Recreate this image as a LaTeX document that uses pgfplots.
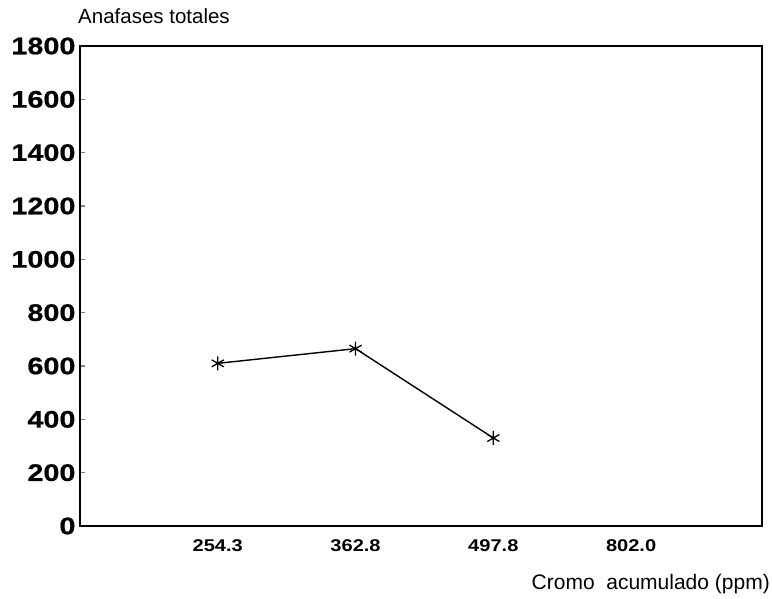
\documentclass[border=0pt]{standalone}
\usepackage{fontspec}
\setmainfont{Liberation Sans}
\newfontfamily\tickfont[FakeStretch=1.2, FakeBold=0.6]{Liberation Sans}
\newfontfamily\xtickfont[FakeStretch=1.18]{Liberation Sans}
\usepackage{pgfplots}
\pgfplotsset{compat=1.18}
\begin{document}
\begin{tikzpicture}[x=1pt,y=1pt]
\useasboundingbox (0,0) rectangle (772,598);
\begin{axis}[
  at={(80pt,72pt)}, anchor=south west,
  scale only axis, width=682pt, height=480pt,
  xmin=0, xmax=4.95, ymin=0, ymax=1800,
  ytick={0,200,...,1800},
  xtick={1,2,3,4},
  xticklabels={254.3,362.8,497.8,802.0},
  ytick pos=left, xtick pos=bottom,
  tick align=inside,
  major tick length=5pt,
  x tick style={draw=none},
  y tick style={line width=1.2pt},
  axis line style={line width=1.5pt},
  /pgf/number format/assume math mode=true,
  /pgf/number format/set thousands separator={},
  yticklabel style={font=\fontsize{24}{26}\tickfont\bfseries, xshift=-1pt},
  xticklabel style={font=\fontsize{17}{19}\xtickfont\bfseries, yshift=-10pt},
]
\addplot[black, line width=1.4pt, mark=asterisk, mark size=7pt, mark options={line width=1.3pt}]
  coordinates {(1,610) (2,665) (3,330)};
\end{axis}
\node[anchor=base west, font=\fontsize{20.5}{23}\selectfont, inner sep=0] at (78,574) {Anafases totales};
\node[anchor=base east, font=\fontsize{21}{24}\selectfont, inner sep=0] at (770,9) {Cromo\ \ acumulado (ppm)};
\end{tikzpicture}
\end{document}
